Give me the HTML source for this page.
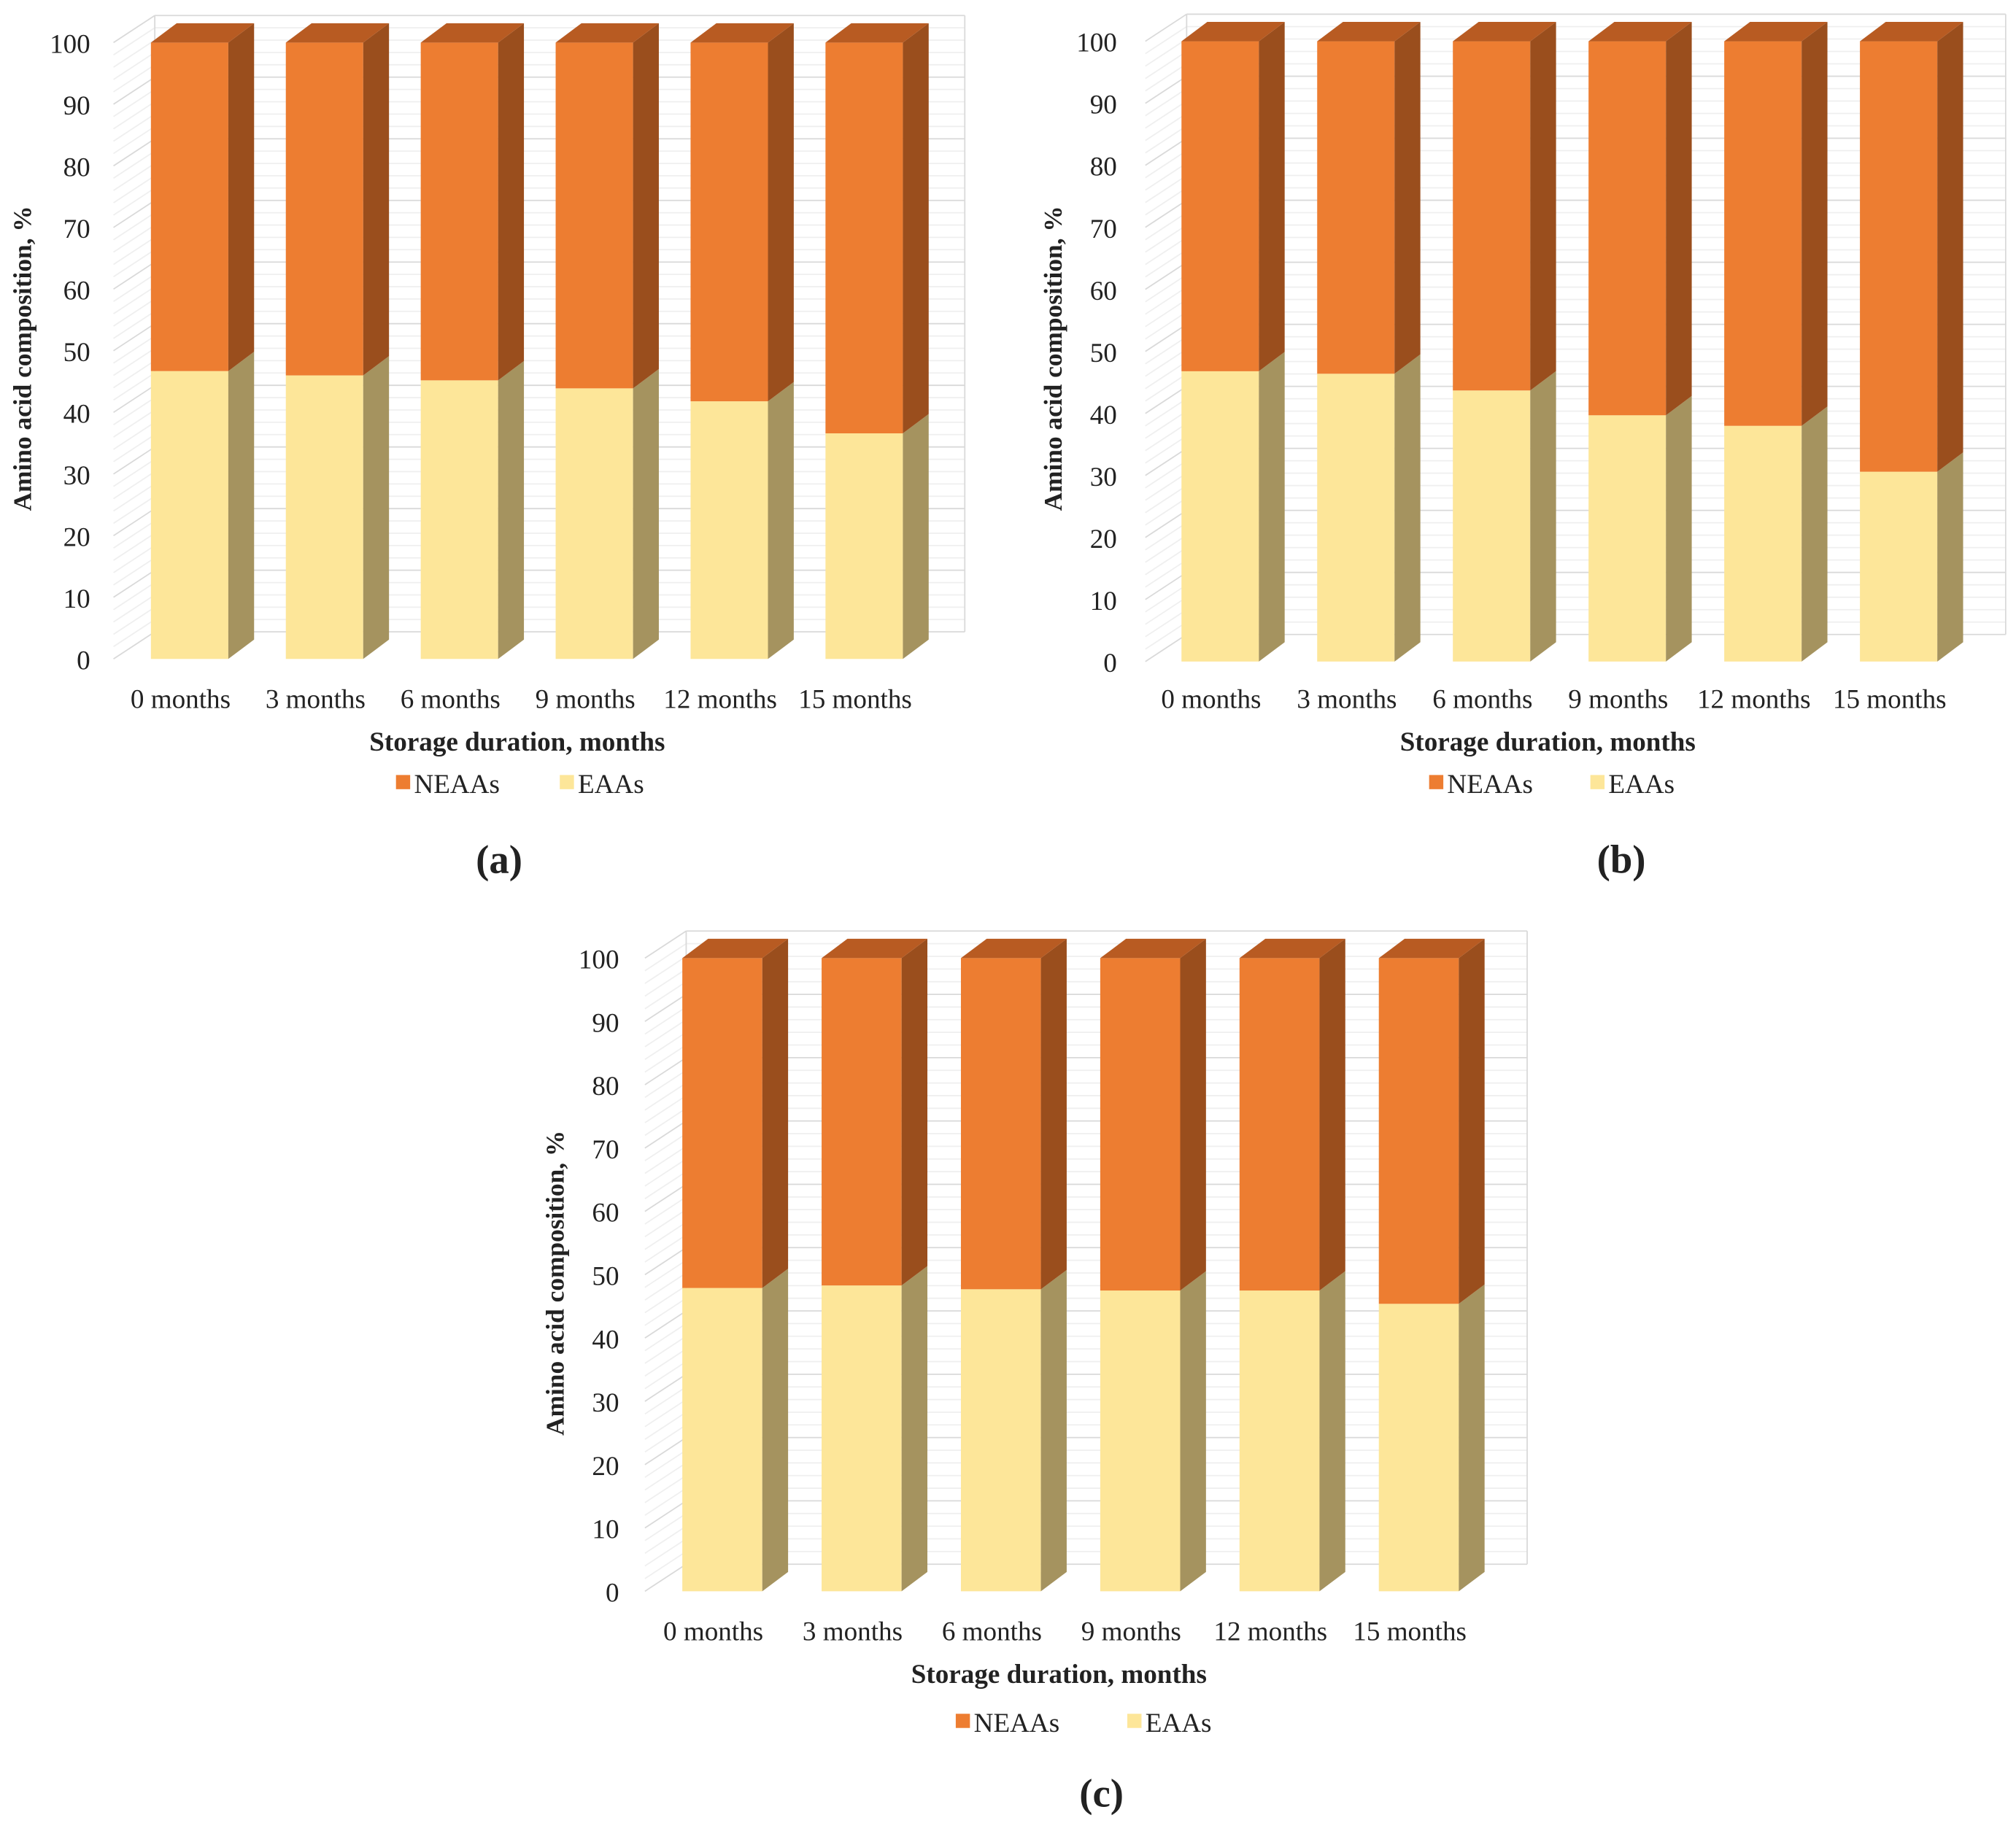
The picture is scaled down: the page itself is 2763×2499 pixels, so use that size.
<!DOCTYPE html>
<html><head><meta charset="utf-8">
<style>
html,body{margin:0;padding:0;background:#fff;}
svg{display:block;}
text{font-family:"Liberation Serif",serif;fill:#222;}
</style></head>
<body>
<svg id="fig" xmlns="http://www.w3.org/2000/svg" width="2763" height="2499" viewBox="0 0 1563 1413.7" preserveAspectRatio="none"></svg>
<script>
const categories = ["0 months","3 months","6 months","9 months","12 months","15 months"];
const eaasA = [46.7, 46.0, 45.2, 43.9, 41.8, 36.6];
const eaasB = [46.8, 46.4, 43.7, 39.7, 38.0, 30.6];
const eaasC = [47.9, 48.3, 47.7, 47.5, 47.5, 45.4];
const totals = [100, 100, 100, 100, 100, 100];
const yTicks = [0,10,20,30,40,50,60,70,80,90,100];

const NS = "http://www.w3.org/2000/svg";
const svg = document.getElementById('fig');
function mk(tag, attrs, parent){
  const e = document.createElementNS(NS, tag);
  for (const k in attrs) e.setAttribute(k, attrs[k]);
  (parent||svg).appendChild(e);
  return e;
}
function drawPanel(p){
  const g = mk('g', {});
  
  
  const y = v => p.base - (p.base - p.top) * v / 100;
  const wdx = 32, wdy = 21;
  const bdx = 20, bdy = 15;
  for (let v = 0; v <= 100; v += 2) {
    const major = v % 10 === 0;
    const col = major ? '#d9d9d9' : '#efefef';
    const l1 = mk('line', {x1:p.axisX+wdx, y1:y(v)-wdy, x2:p.wallR, y2:y(v)-wdy, stroke:col, 'stroke-width':1}, g);
    
    
    const l2 = mk('line', {x1:p.axisX, y1:y(v), x2:p.axisX+wdx, y2:y(v)-wdy, stroke:col, 'stroke-width':1}, g);
    
    
  }
  mk('line', {x1:p.axisX+wdx, y1:y(0)-wdy, x2:p.axisX+wdx, y2:y(100)-wdy, stroke:'#d9d9d9'}, g);
  mk('line', {x1:p.wallR, y1:y(0)-wdy, x2:p.wallR, y2:y(100)-wdy, stroke:'#d9d9d9'}, g);
  yTicks.forEach(v => {
    const t = mk('text', {x:p.labX, y:y(v)+8, 'text-anchor':'end', 'font-size':21}, g);
    t.textContent = v;
    
    
  });
  categories.forEach((c, i) => {
    const x0 = p.bar0 + i * p.step, w = p.bw;
    const e = p.data[i], tot = totals[i];
    const bg = mk('g', {}, g);
    
    
    const yb = y(0), ye = y(e), yt = y(tot);
    const f1 = mk('rect', {x:x0, y:ye, width:w, height:yb-ye, fill:'#FDE699'}, bg);
    
    
    mk('polygon', {points:`${x0+w},${yb} ${x0+w+bdx},${yb-bdy} ${x0+w+bdx},${ye-bdy} ${x0+w},${ye}`, fill:'#A5935F'}, bg);
    const f2 = mk('rect', {x:x0, y:yt, width:w, height:ye-yt, fill:'#ED7D31'}, bg);
    
    
    mk('polygon', {points:`${x0+w},${ye} ${x0+w+bdx},${ye-bdy} ${x0+w+bdx},${yt-bdy} ${x0+w},${yt}`, fill:'#9A4E1D'}, bg);
    mk('polygon', {points:`${x0},${yt} ${x0+bdx},${yt-bdy} ${x0+w+bdx},${yt-bdy} ${x0+w},${yt}`, fill:'#B85B22'}, bg);
    const t = mk('text', {x:x0 + w/2 - 7, y:p.catY, 'text-anchor':'middle', 'font-size':21}, g);
    t.textContent = c;
    
    
  });
  const yt = mk('text', {x:0, y:0, 'text-anchor':'middle', 'font-size':20, 'font-weight':'bold', transform:`translate(${p.ytX},${p.ytY}) rotate(-90)`}, g);
  yt.textContent = 'Amino acid composition, %';
  
  
  const xt = mk('text', {x:p.xtX, y:p.xtY, 'text-anchor':'middle', 'font-size':21, 'font-weight':'bold'}, g);
  xt.textContent = 'Storage duration, months';
  
  
  const lg = mk('g', {}, g);
  
  
  mk('rect', {x:p.lg1, y:p.lgY-14, width:11, height:11, fill:'#ED7D31'}, lg);
  const l1 = mk('text', {x:p.lg1+14, y:p.lgY, 'font-size':21}, lg);
  l1.textContent = 'NEAAs';
  
  
  mk('rect', {x:p.lg2, y:p.lgY-14, width:11, height:11, fill:'#FDE699'}, lg);
  const l2 = mk('text', {x:p.lg2+14, y:p.lgY, 'font-size':21}, lg);
  l2.textContent = 'EAAs';
  
  
  const pl = mk('text', {x:p.plX, y:p.plY, 'text-anchor':'middle', 'font-size':31, 'font-weight':'bold'}, g);
  pl.textContent = '(' + p.id + ')';
  
  
}
drawPanel({id:'a', data:eaasA, base:511, top:33, axisX:88, wallR:748, labX:70, bar0:117, step:104.6, bw:60, catY:549,
  ytX:24, ytY:278, xtX:401, xtY:582, lg1:307, lg2:434, lgY:615, plX:387, plY:677});
drawPanel({id:'b', data:eaasB, base:513, top:32, axisX:888, wallR:1555, labX:866, bar0:916, step:105.2, bw:60, catY:549,
  ytX:823, ytY:278, xtX:1200, xtY:582, lg1:1108, lg2:1233, lgY:615, plX:1257, plY:677});
drawPanel({id:'c', data:eaasC, base:1234, top:743, axisX:500, wallR:1184, labX:480, bar0:529, step:108, bw:62, catY:1272,
  ytX:437, ytY:995, xtX:821, xtY:1305, lg1:741, lg2:874, lgY:1343, plX:854, plY:1401});
</script>
</body></html>
